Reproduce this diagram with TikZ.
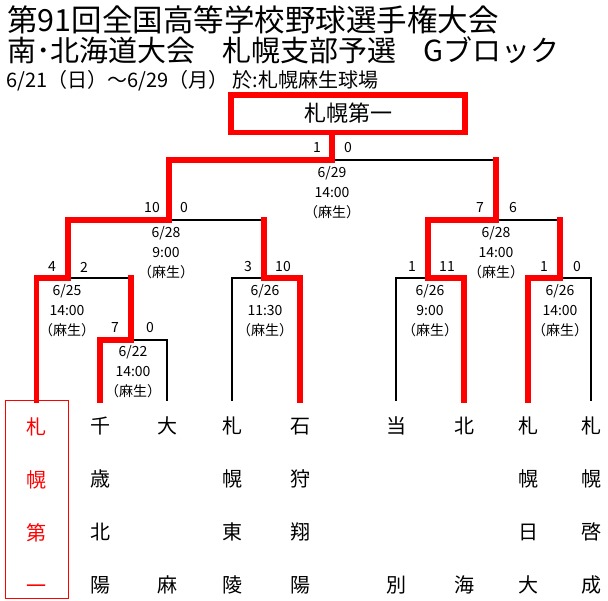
\documentclass[tikz,border=0pt]{standalone}
\usepackage{fontspec}
\setmainfont{Noto Sans CJK JP}
\newcommand{\teamtop}{\rule{0pt}{29pt}}
\begin{document}
\begin{tikzpicture}[x=1pt,y=-1pt,
    lose/.style={line width=2pt,line cap=rect},
    win/.style={red,line width=5.5pt,line cap=rect},
    team/.style={anchor=north,align=center,inner sep=0pt,minimum width=63pt,minimum height=198pt,font=\fontsize{20}{53}\selectfont},
    score/.style={inner sep=0pt,font=\fontsize{14}{14}\selectfont},
    date/.style={anchor=north,align=center,inner sep=0pt,font=\fontsize{14}{20}\selectfont},
    head/.style={anchor=west,inner sep=0pt}]
      \useasboundingbox (0,0) rectangle (608,600);
      \node[head,font=\fontsize{30.5}{30}\selectfont] (title1) at (7,20) {第91回全国高等学校野球選手権大会};
      \node[head,font=\fontsize{29}{29}\selectfont] (title2) at (7,50) {南･北海道大会\hspace{27pt}札幌支部予選\hspace{27pt}Gブロック};
      \node[head,font=\fontsize{20}{20}\selectfont] (title3) at (6,81) {6/21（日）～6/29（月） 於:札幌麻生球場};
      \node[draw=red,line width=5.5pt,inner sep=0pt,minimum width=234pt,minimum height=37.5pt,font=\fontsize{22}{22}\selectfont] (champ) at (348,113.5) {札幌第一};
      % teams
      \node[team,draw=red,text=red] (a1) at (36.5,400) {\teamtop 札\\幌\\第\\一};
      \node[team] (a2) at (100,400) {\teamtop 千\\歳\\北\\陽};
      \node[team] (a3) at (167,400) {\teamtop 大\\~\\~\\麻};
      \node[team] (a4) at (232,400) {\teamtop 札\\幌\\東\\陵};
      \node[team] (a5) at (300,400) {\teamtop 石\\狩\\翔\\陽};
      \node[team] (a6) at (396,400) {\teamtop 当\\~\\~\\別};
      \node[team] (a7) at (464,400) {\teamtop 北\\~\\~\\海};
      \node[team] (a8) at (528,400) {\teamtop 札\\幌\\日\\大};
      \node[team] (a9) at (591,400) {\teamtop 札\\幌\\啓\\成};
      % games
      \coordinate (g1) at (131,340);
      \coordinate (g2) at (68,278);
      \coordinate (g3) at (264,278);
      \coordinate (g4) at (428,278);
      \coordinate (g5) at (560,278);
      \coordinate (g6) at (169,220);
      \coordinate (g7) at (496,220);
      \coordinate (g8) at (332,160);
      \draw[lose] (a1.north) |- (g2);
      \draw[lose] (a2.north) |- (g1);
      \draw[lose] (a3.north) |- (g1);
      \draw[lose] (g1) |- (g2);
      \draw[lose] (a4.north) |- (g3);
      \draw[lose] (a5.north) |- (g3);
      \draw[lose] (g2) |- (g6);
      \draw[lose] (g3) |- (g6);
      \draw[lose] (a6.north) |- (g4);
      \draw[lose] (a7.north) |- (g4);
      \draw[lose] (a8.north) |- (g5);
      \draw[lose] (a9.north) |- (g5);
      \draw[lose] (g4) |- (g7);
      \draw[lose] (g5) |- (g7);
      \draw[lose] (g6) |- (g8);
      \draw[lose] (g7) |- (g8);
      % winners
      \draw[win] (a1.north) |- (g2) |- (g6) |- (g8) -- (g8 |- champ.south);
      \draw[win] (a2.north) |- (g1) -- (g1 |- g2);
      \draw[win] (a5.north) |- (g3) -- (g3 |- g6);
      \draw[win] (a7.north) |- (g4) |- (g7) -- (g7 |- g8);
      \draw[win] (a8.north) |- (g5) -- (g5 |- g7);
      % scores
      \node[score] (s1a) at (115,328) {7};
      \node[score] (s1b) at (150,328) {0};
      \node[score] (s2a) at (52,267) {4};
      \node[score] (s2b) at (84,267) {2};
      \node[score] (s3a) at (248,267) {3};
      \node[score] (s3b) at (283,267) {10};
      \node[score] (s4a) at (412,267) {1};
      \node[score] (s4b) at (447,267) {11};
      \node[score] (s5a) at (544,267) {1};
      \node[score] (s5b) at (577,267) {0};
      \node[score] (s6a) at (152,208) {10};
      \node[score] (s6b) at (184,208) {0};
      \node[score] (s7a) at (480,208) {7};
      \node[score] (s7b) at (513,208) {6};
      \node[score] (s8a) at (317,148) {1};
      \node[score] (s8b) at (348,148) {0};
      % dates
      \node[date] (d1) at (133,345) {6/22\\14:00\\（麻生）};
      \node[date] (d2) at (67,284) {6/25\\14:00\\（麻生）};
      \node[date] (d3) at (265,284) {6/26\\11:30\\（麻生）};
      \node[date] (d4) at (430,284) {6/26\\9:00\\（麻生）};
      \node[date] (d5) at (560,284) {6/26\\14:00\\（麻生）};
      \node[date] (d6) at (166,226) {6/28\\9:00\\（麻生）};
      \node[date] (d7) at (496,226) {6/28\\14:00\\（麻生）};
      \node[date] (d8) at (332,166) {6/29\\14:00\\（麻生）};
    \end{tikzpicture}
\end{document}
